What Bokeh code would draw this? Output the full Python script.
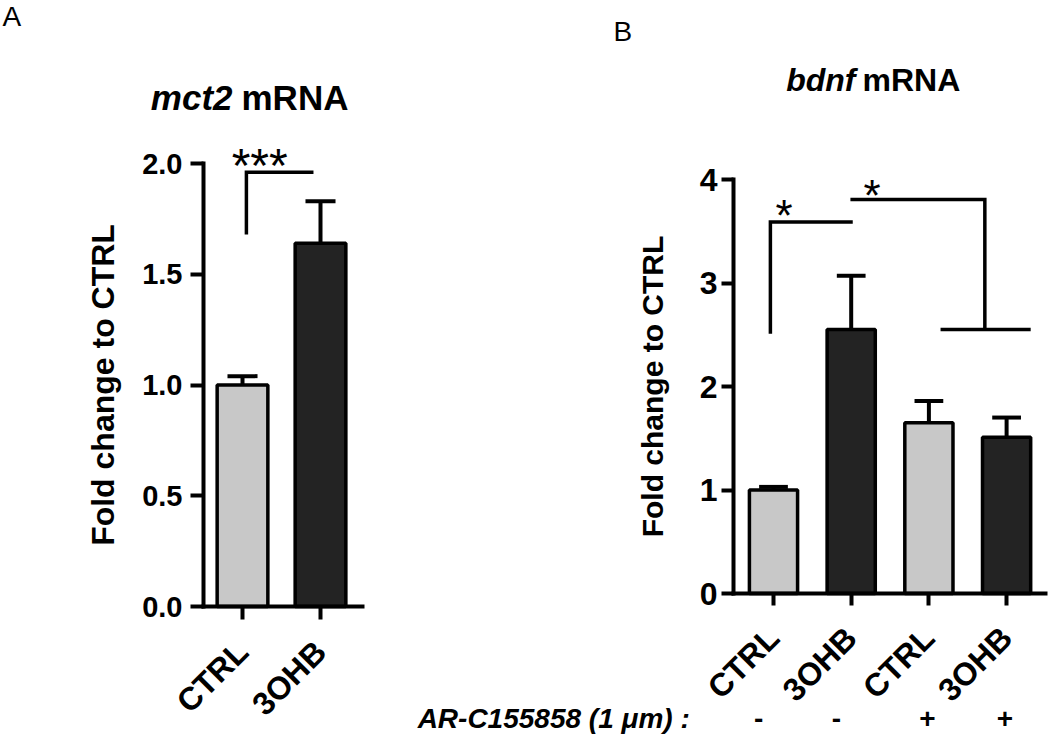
import math
from bokeh.plotting import figure
from bokeh.models import (Range1d, FixedTicker, PrintfTickFormatter, Label,
                          LinearAxis)
from bokeh.embed import file_html
from bokeh.resources import INLINE

FONT = "Liberation Sans"
LIGHT = "#c8c8c8"
DARK = "#232323"
GROUP_COLORS = {"CTRL": LIGHT, "3OHB": DARK}

# ---- Panel A data: mct2 mRNA ----
mct2_groups = ["CTRL", "3OHB"]
mct2_mean = [1.00, 1.64]
mct2_sem = [0.04, 0.19]
mct2_yticks = [0.0, 0.5, 1.0, 1.5, 2.0]

# ---- Panel B data: bdnf mRNA ----
bdnf_groups = ["CTRL", "3OHB", "CTRL", "3OHB"]
bdnf_mean = [1.00, 2.55, 1.65, 1.51]
bdnf_sem = [0.03, 0.52, 0.21, 0.19]
bdnf_inhibitor = ["-", "-", "+", "+"]
bdnf_yticks = [0, 1, 2, 3, 4]

W, H = 1048, 736

# One canvas, two coordinate systems (panel A = default ranges, panel B = "b")
p = figure(width=W, height=H, output_backend="svg", toolbar_location=None,
           x_axis_type=None, y_axis_type=None,
           x_range=Range1d(-3.1026, 10.3333), y_range=Range1d(-0.5869, 2.7359),
           min_border=0, min_border_left=0, min_border_right=0,
           min_border_top=0, min_border_bottom=0)
p.extra_x_ranges = {"b": Range1d(-9.9485, 3.5393)}
p.extra_y_ranges = {"b": Range1d(-1.3816, 5.7295)}
p.outline_line_color = None
p.grid.visible = False
p.background_fill_color = "white"
p.border_fill_color = "white"


def rn(panel):
    return "b" if panel == "B" else "default"


def add_axes(panel, groups, yticks, xbounds, ybounds, fmt, ysize,
             ystandoff, lsize, lstandoff, ticklen):
    r = rn(panel)
    xa = LinearAxis(x_range_name=r, y_range_name=r, fixed_location=0,
                    bounds=xbounds)
    ya = LinearAxis(x_range_name=r, y_range_name=r, fixed_location=xbounds[0],
                    bounds=ybounds)
    for ax in (xa, ya):
        ax.axis_line_width = 4
        ax.axis_line_color = "black"
        ax.axis_line_cap = "square"
        ax.major_tick_line_width = 4
        ax.major_tick_line_color = "black"
        ax.major_tick_in = 0
        ax.major_tick_out = ticklen
        ax.minor_tick_line_color = None
        ax.major_label_text_font = FONT
        ax.major_label_text_font_style = "bold"
        ax.major_label_text_color = "black"
    xa.ticker = FixedTicker(ticks=list(range(len(groups))))
    xa.major_label_overrides = {i: g for i, g in enumerate(groups)}
    xa.major_label_orientation = math.pi / 4
    xa.major_label_text_font_size = "32px"
    xa.major_label_standoff = 27
    ya.ticker = FixedTicker(ticks=yticks)
    ya.formatter = PrintfTickFormatter(format=fmt)
    ya.major_label_text_font_size = ysize
    ya.major_label_standoff = ystandoff
    ya.axis_label = "Fold change to CTRL"
    ya.axis_label_text_font = FONT
    ya.axis_label_text_font_style = "bold"
    ya.axis_label_text_font_size = lsize
    ya.axis_label_text_color = "black"
    ya.axis_label_standoff = lstandoff
    p.add_layout(xa, "below")
    p.add_layout(ya, "left")


def draw_bars(panel, groups, mean, sem, width, cap):
    r = rn(panel)
    xs = list(range(len(groups)))
    colors = [GROUP_COLORS[g] for g in groups]
    tops = [m + e for m, e in zip(mean, sem)]
    p.segment(x0=xs, y0=mean, x1=xs, y1=tops, line_color="black",
              line_width=4, x_range_name=r, y_range_name=r)
    p.segment(x0=[x - cap / 2 for x in xs], y0=tops,
              x1=[x + cap / 2 for x in xs], y1=tops,
              line_color="black", line_width=4, x_range_name=r, y_range_name=r)
    p.vbar(x=xs, top=mean, bottom=0, width=width, fill_color=colors,
           line_color="black", line_width=3.5, x_range_name=r, y_range_name=r)


def text(panel, x, y, s, size, style="bold", align="left"):
    r = rn(panel)
    p.add_layout(Label(x=x, y=y, text=s, text_font=FONT, text_font_size=size,
                       text_font_style=style, text_align=align,
                       text_baseline="alphabetic", text_color="black",
                       x_range_name=r, y_range_name=r))


def bracket(panel, xs, ys):
    r = rn(panel)
    p.line(xs, ys, line_color="black", line_width=3.5, line_join="miter",
           x_range_name=r, y_range_name=r)


# ---------------- Panel A ----------------
add_axes("A", mct2_groups, mct2_yticks, (-0.5, 1.538), (0, 2), "%.1f",
         "29px", 8, "32px", 18, 13)
draw_bars("A", mct2_groups, mct2_mean, mct2_sem, 0.65, 0.385)
bracket("A", [0.05, 0.05, 0.91], [1.68, 1.96, 1.96])
text("A", 0.22, 1.991, "***", "48px", style="normal", align="center")
text("A", -0.128, 2.298, "mct2", "35px", style="bold italic", align="right")
text("A", -0.013, 2.298, "mRNA", "35px", style="bold", align="left")
text("A", -3.077, 2.664, "A", "28px", style="normal")

# ---------------- Panel B ----------------
add_axes("B", bdnf_groups, bdnf_yticks, (-0.515, 3.5006), (0, 4), "%d",
         "32px", 4, "30px", 28, 12)
draw_bars("B", bdnf_groups, bdnf_mean, bdnf_sem, 0.62, 0.37)
bracket("B", [-0.04, -0.04, 1.02], [2.51, 3.59, 3.59])
bracket("B", [0.99, 2.72, 2.72], [3.807, 3.807, 2.55])
bracket("B", [2.15, 3.31], [2.55, 2.55])
text("B", 0.135, 3.652, "*", "44px", style="normal", align="center")
text("B", 1.27, 3.845, "*", "44px", style="normal", align="center")
text("B", 1.055, 4.957, "bdnf", "32px", style="bold italic", align="right")
text("B", 1.145, 4.957, "mRNA", "32px", style="bold", align="left")
text("B", -2.06, 5.430, "B", "28px", style="normal")
text("B", -4.58, -1.2077, "AR-C155858 (1 \u03bcm) :", "28px", style="bold italic")
for i, s in enumerate(bdnf_inhibitor):
    off = -0.19 if s == "-" else -0.02
    text("B", i + off, -1.2077, s, "28px", style="bold", align="center")

open("out.html", "w").write(file_html(p, INLINE))
